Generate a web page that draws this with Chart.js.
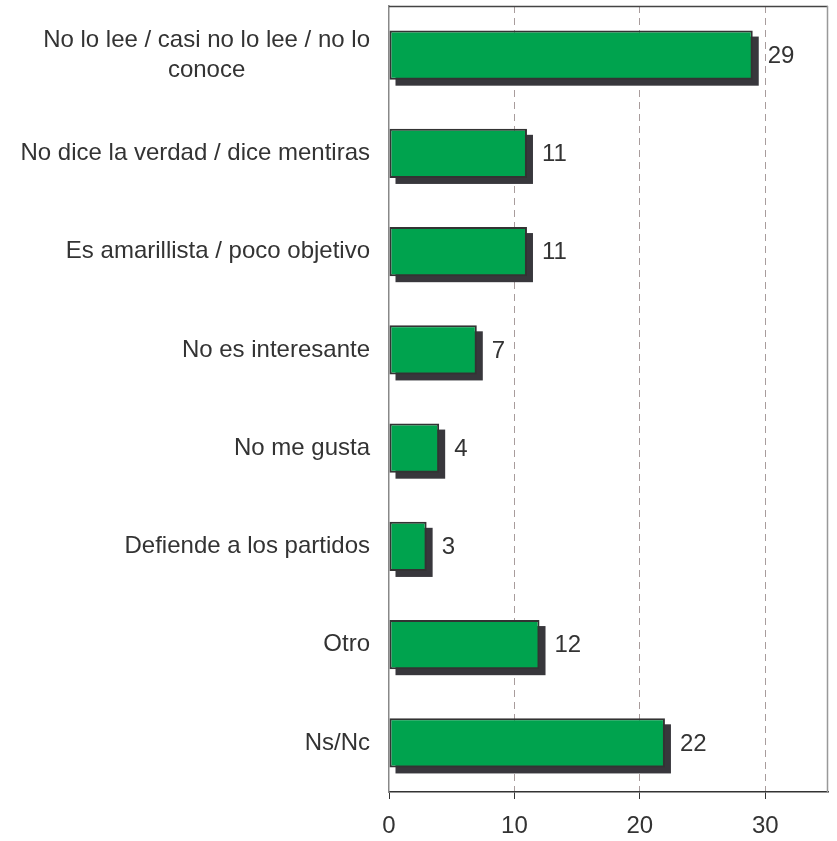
<!DOCTYPE html>
<html>
<head>
<meta charset="utf-8">
<script src="https://cdn.jsdelivr.net/npm/chart.js@4"></script>
<style>
  body { margin: 0; background: #fff; }
</style>
</head>
<body>
<canvas id="chart" width="837" height="841"></canvas>
<script>
// chart data
const categories = [
    ['No lo lee / casi no lo lee / no lo', 'conoce'],
    'No dice la verdad / dice mentiras',
    'Es amarillista / poco objetivo',
    'No es interesante',
    'No me gusta',
    'Defiende a los partidos',
    'Otro',
    'Ns/Nc'
];
const values = [29, 11, 11, 7, 4, 3, 12, 22];
const xTicks = [0, 10, 20, 30];
const xMax = 35;

const FONT = '"Liberation Sans", Arial, Helvetica, sans-serif';
const TEXT = '#333333';
const SIZE = 24;

// dark drop shadow behind each bar
const shadowPlugin = {
    id: 'shadow',
    beforeDatasetsDraw(chart) {
        const ctx = chart.ctx;
        const meta = chart.getDatasetMeta(0);
        ctx.save();
        ctx.fillStyle = '#38373c';
        meta.data.forEach(bar => {
            const p = bar.getProps(['x', 'y', 'base', 'height'], true);
            const left = Math.min(p.base, p.x);
            const w = Math.abs(p.x - p.base);
            ctx.fillRect(left + 6, p.y - p.height / 2 + 6, w, p.height);
        });
        ctx.restore();
    },
    afterDatasetsDraw(chart) {
        // value labels next to the bars
        const ctx = chart.ctx;
        const meta = chart.getDatasetMeta(0);
        ctx.save();
        ctx.font = SIZE + 'px ' + FONT;
        ctx.fillStyle = TEXT;
        ctx.textBaseline = 'middle';
        ctx.textAlign = 'left';
        meta.data.forEach((bar, i) => {
            ctx.fillText(String(values[i]), bar.x + 15, bar.y + 1);
        });
        ctx.restore();
    },
    afterDraw(chart) {
        const ctx = chart.ctx;
        const a = chart.chartArea;
        ctx.save();
        // top and right frame of the plot
        ctx.lineWidth = 1.5;
        ctx.strokeStyle = '#444444';
        ctx.beginPath();
        ctx.moveTo(a.left, a.top + 0.5);
        ctx.lineTo(a.right, a.top + 0.5);
        ctx.stroke();
        ctx.strokeStyle = '#999999';
        ctx.beginPath();
        ctx.moveTo(a.right - 0.5, a.top);
        ctx.lineTo(a.right - 0.5, a.bottom);
        ctx.stroke();

        // category labels: block right aligned, lines centred within block
        const y = chart.scales.y;
        ctx.font = SIZE + 'px ' + FONT;
        ctx.fillStyle = TEXT;
        ctx.textBaseline = 'middle';
        ctx.textAlign = 'center';
        const lineH = 30;
        categories.forEach((cat, i) => {
            const lines = Array.isArray(cat) ? cat : [cat];
            const blockW = Math.max(...lines.map(l => ctx.measureText(l).width));
            const right = a.left - 19;
            const cx = right - blockW / 2;
            const cy = y.getPixelForTick(i);
            const top = cy - (lines.length - 1) * lineH / 2;
            lines.forEach((l, j) => ctx.fillText(l, cx, top + j * lineH));
        });
        ctx.restore();
    }
};

const ctx = document.getElementById('chart').getContext('2d');
const chart = new Chart(ctx, {
    type: 'bar',
    data: {
        labels: categories,
        datasets: [{
            data: values,
            backgroundColor: '#00a34e',
            borderColor: '#333333',
            borderWidth: 2,
            borderSkipped: false,
            categoryPercentage: 0.5,
            barPercentage: 1
        }]
    },
    options: {
        indexAxis: 'y',
        responsive: false,
        animation: false,
        layout: {
            padding: { top: 6, right: 9, bottom: 1, left: 0 }
        },
        plugins: {
            legend: { display: false },
            tooltip: { enabled: false }
        },
        scales: {
            x: {
                min: 0,
                max: xMax,
                afterBuildTicks(scale) {
                    scale.ticks = xTicks.map(v => ({ value: v }));
                },
                afterFit(scale) {
                    scale.height = 48;
                },
                border: { display: true, color: '#333333', width: 1.5, dash: [7, 5] },
                grid: {
                    color: c => (c.tick && c.tick.value === 0) ? 'rgba(0,0,0,0)' : '#a89c9c',
                    tickColor: '#333333',
                    tickBorderDash: [],
                    tickLength: 7,
                    lineWidth: 1
                },
                ticks: {
                    color: TEXT,
                    padding: 13,
                    font: { family: FONT, size: SIZE }
                }
            },
            y: {
                afterFit(scale) {
                    scale.width = 389;
                },
                border: { display: true, color: '#888888', width: 1.5 },
                grid: { drawOnChartArea: false, drawTicks: false },
                ticks: { display: false }
            }
        }
    },
    plugins: [shadowPlugin]
});
</script>
</body>
</html>
